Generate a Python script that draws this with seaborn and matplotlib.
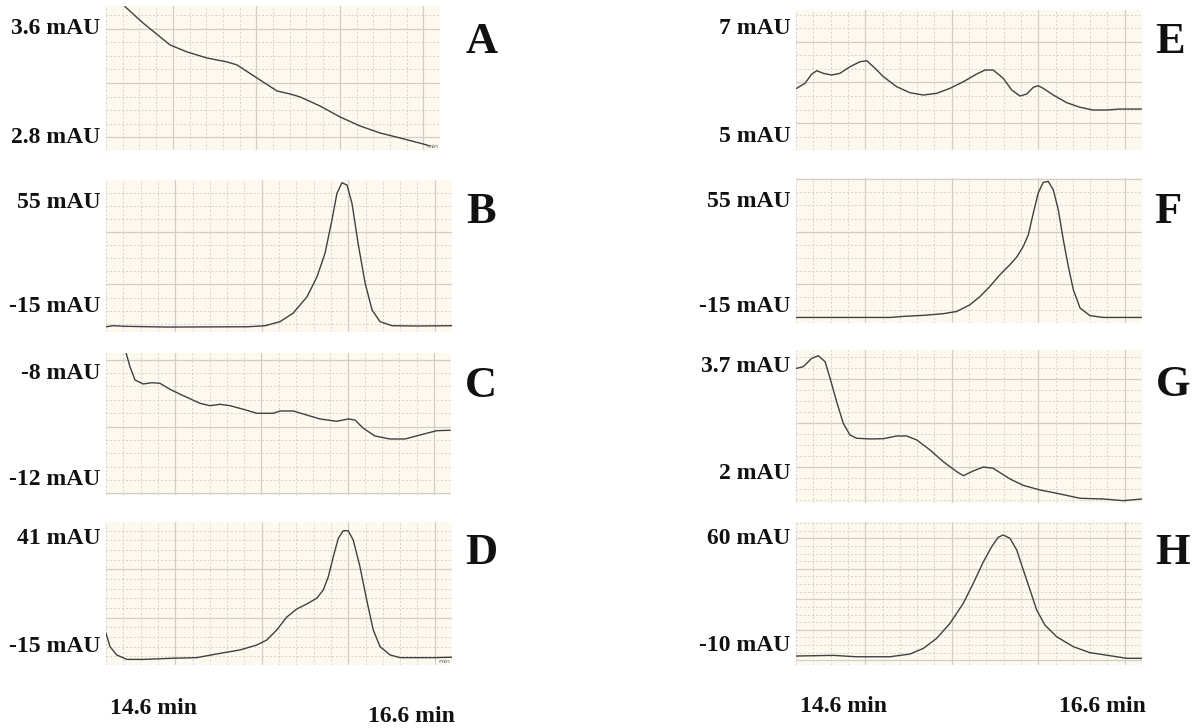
import matplotlib
matplotlib.use("Agg")
import matplotlib.pyplot as plt
from matplotlib.ticker import MultipleLocator
import pandas as pd
import seaborn as sns

# ---------------- data ----------------
a_time = [14.714, 14.822, 14.983, 15.085, 15.205, 15.325, 15.384, 15.504, 15.624, 15.702,
          15.762, 15.881, 16.001, 16.121, 16.241, 16.361, 16.498, 16.540]
a_mau = [3.765, 3.644, 3.482, 3.430, 3.385, 3.356, 3.334, 3.237, 3.141, 3.119,
         3.097, 3.030, 2.949, 2.882, 2.830, 2.793, 2.749, 2.734]

b_time = [14.600, 14.640, 14.710, 14.953, 15.421, 15.520, 15.606, 15.681, 15.762, 15.820,
          15.866, 15.906, 15.935, 15.964, 15.993, 16.022, 16.057, 16.098, 16.138, 16.184,
          16.253, 16.398, 16.600]
b_mau = [-28.2, -27.5, -27.9, -28.4, -28.2, -27.5, -24.8, -19.2, -8.2, 5.2,
         20.8, 43.0, 60.8, 67.9, 66.3, 54.1, 27.5, 0.8, -17.0, -24.8,
         -27.5, -27.7, -27.5]

c_time = [14.716, 14.739, 14.768, 14.816, 14.865, 14.913, 14.971, 15.039, 15.145, 15.203,
          15.261, 15.319, 15.396, 15.474, 15.570, 15.609, 15.686, 15.763, 15.841, 15.937,
          16.005, 16.043, 16.092, 16.159, 16.246, 16.333, 16.420, 16.517, 16.594]
c_mau = [-7.241, -7.764, -8.262, -8.411, -8.363, -8.385, -8.609, -8.822, -9.133, -9.222,
         -9.170, -9.222, -9.357, -9.506, -9.506, -9.420, -9.420, -9.570, -9.719, -9.805,
         -9.719, -9.757, -10.067, -10.355, -10.467, -10.467, -10.318, -10.157, -10.142]

d_time = [14.600, 14.623, 14.662, 14.720, 14.816, 14.989, 15.124, 15.240, 15.375, 15.471,
          15.529, 15.587, 15.644, 15.702, 15.760, 15.818, 15.856, 15.885, 15.914, 15.943,
          15.972, 16.000, 16.029, 16.068, 16.107, 16.145, 16.184, 16.242, 16.299, 16.492, 16.598]
d_mau = [-8.1, -15.0, -19.3, -21.6, -21.6, -21.0, -20.7, -18.8, -16.7, -14.2,
         -11.6, -6.4, 0.2, 4.4, 7.0, 10.0, 14.3, 21.1, 31.5, 41.0,
         44.9, 44.9, 40.1, 26.3, 9.1, -6.4, -15.0, -19.3, -20.7, -20.7, -20.5]

e_time = [14.604, 14.652, 14.691, 14.720, 14.758, 14.806, 14.854, 14.912, 14.970, 15.009,
          15.057, 15.105, 15.182, 15.259, 15.336, 15.413, 15.490, 15.567, 15.644, 15.692,
          15.740, 15.798, 15.847, 15.895, 15.933, 15.972, 16.000, 16.029, 16.087, 16.165,
          16.242, 16.318, 16.396, 16.473, 16.598]
e_mau = [5.892, 5.985, 6.156, 6.217, 6.169, 6.138, 6.169, 6.291, 6.383, 6.402,
         6.262, 6.107, 5.922, 5.811, 5.769, 5.800, 5.892, 6.014, 6.156, 6.230,
         6.230, 6.077, 5.861, 5.750, 5.787, 5.911, 5.940, 5.892, 5.769, 5.627,
         5.542, 5.492, 5.492, 5.510, 5.510]

f_time = [14.604, 14.854, 15.143, 15.220, 15.336, 15.451, 15.529, 15.606, 15.664, 15.721,
          15.779, 15.837, 15.876, 15.914, 15.943, 15.972, 16.000, 16.029, 16.058, 16.087,
          16.116, 16.145, 16.174, 16.203, 16.242, 16.299, 16.376, 16.511, 16.598]
f_mau = [-22.2, -22.2, -22.2, -21.5, -20.8, -19.7, -18.2, -13.7, -8.2, -1.5,
         6.3, 13.0, 18.1, 25.2, 33.0, 47.5, 60.8, 67.9, 68.5, 63.0,
         49.7, 29.7, 11.8, -3.7, -15.9, -21.0, -22.2, -22.2, -22.2]

g_time = [14.604, 14.642, 14.691, 14.729, 14.768, 14.797, 14.835, 14.873, 14.912, 14.951,
          15.028, 15.105, 15.182, 15.240, 15.298, 15.375, 15.451, 15.529, 15.567, 15.625,
          15.683, 15.740, 15.837, 15.914, 16.010, 16.107, 16.242, 16.376, 16.492, 16.598]
g_mau = [3.674, 3.700, 3.834, 3.875, 3.780, 3.515, 3.142, 2.798, 2.611, 2.559,
         2.548, 2.552, 2.595, 2.595, 2.532, 2.372, 2.186, 2.027, 1.963, 2.038,
         2.101, 2.080, 1.910, 1.808, 1.735, 1.682, 1.602, 1.591, 1.564, 1.591]

h_time = [14.604, 14.816, 14.951, 15.143, 15.259, 15.336, 15.413, 15.490, 15.567, 15.625,
          15.683, 15.731, 15.769, 15.798, 15.837, 15.876, 15.914, 15.953, 15.991, 16.039,
          16.107, 16.203, 16.299, 16.415, 16.511, 16.598]
h_mau = [-17.2, -16.8, -17.7, -17.7, -15.9, -12.2, -5.6, 4.2, 17.4, 30.5,
         44.6, 54.5, 60.7, 62.2, 60.0, 52.3, 39.2, 26.1, 13.0, 3.1,
         -4.6, -11.1, -15.0, -17.0, -18.7, -18.7]

panel_letters = ["A", "B", "C", "D", "E", "F", "G", "H"]
a_ticks, a_labels = [3.6, 2.8], ["3.6 mAU", "2.8 mAU"]
b_ticks, b_labels = [55, -15], ["55 mAU", "-15 mAU"]
c_ticks, c_labels = [-8, -12], ["-8 mAU", "-12 mAU"]
d_ticks, d_labels = [41, -15], ["41 mAU", "-15 mAU"]
e_ticks, e_labels = [7, 5], ["7 mAU", "5 mAU"]
f_ticks, f_labels = [55, -15], ["55 mAU", "-15 mAU"]
g_ticks, g_labels = [3.7, 2], ["3.7 mAU", "2 mAU"]
h_ticks, h_labels = [60, -10], ["60 mAU", "-10 mAU"]
time_start_label = "14.6 min"
time_end_label = "16.6 min"
time_range = (14.6, 16.6)

# ---------------- layout / style ----------------
W, H = 1202, 728
BG = "#fdf9ee"
LINE = "#404040"
SERIF = ["Liberation Serif", "DejaVu Serif"]

series = [(a_time, a_mau, a_ticks, a_labels), (b_time, b_mau, b_ticks, b_labels),
          (c_time, c_mau, c_ticks, c_labels), (d_time, d_mau, d_ticks, d_labels),
          (e_time, e_mau, e_ticks, e_labels), (f_time, f_mau, f_ticks, f_labels),
          (g_time, g_mau, g_ticks, g_labels), (h_time, h_mau, h_ticks, h_labels)]

# pixel boxes (left, top, right, bottom), y-limits, grid steps, letter position, unit mark
layout = [
    ((106, 6, 440, 150), (2.704, 3.770), 0.4, 0.1, (482, 42), True),
    ((106, 180, 452, 332), (-31.7, 69.7), 35, 8.75, (481, 212), False),
    ((106, 353, 451, 495), (-12.561, -7.252), 2.5, 0.5, (481, 386), False),
    ((106, 522, 452, 665), (-24.5, 49.4), 25, 5, (481, 553), True),
    ((796, 10, 1142, 150), (4.754, 7.338), 0.75, 0.25, (1170, 42), False),
    ((796, 178, 1142, 323), (-25.9, 70.8), 35, 8.75, (1168, 212), False),
    ((796, 350, 1142, 503), (1.527, 3.966), 0.7, 0.175, (1173, 385), False),
    ((796, 522, 1142, 665), (-23.1, 70.7), 20, 5, (1173, 553), False),
]

fig = plt.figure(figsize=(W / 100, H / 100), dpi=100)
fig.patch.set_facecolor("white")

for (t, v, ticks, labels), letter, (box, ylim, maj, mnr, lpos, unit) in zip(series, panel_letters, layout):
    l, tp, r, b = box
    ax = fig.add_axes([l / W, 1 - b / H, (r - l) / W, (b - tp) / H])
    ax.set_facecolor(BG)
    df = pd.DataFrame({"time": t, "mAU": v})
    sns.lineplot(data=df, x="time", y="mAU", ax=ax, color=LINE, linewidth=1.0,
                 estimator=None, sort=False, legend=False)
    ax.set_xlim(*time_range)
    ax.set_ylim(*ylim)
    ax.xaxis.set_major_locator(MultipleLocator(0.5))
    ax.xaxis.set_minor_locator(MultipleLocator(0.1))
    ax.yaxis.set_major_locator(MultipleLocator(maj))
    ax.yaxis.set_minor_locator(MultipleLocator(mnr))
    ax.grid(which="major", color="#d2cec6", linewidth=0.9, linestyle="-")
    ax.grid(which="minor", color="#d6d2ca", linewidth=0.7, linestyle=(0, (2, 2)))
    ax.set_axisbelow(True)
    ax.tick_params(which="both", length=0, labelbottom=False, labelleft=False)
    ax.set_xlabel("")
    ax.set_ylabel("")
    for s in ax.spines.values():
        s.set_visible(False)
    for val, lab in zip(ticks, labels):
        ax.text(-0.016, val, lab, transform=ax.get_yaxis_transform(), ha="right", va="center",
                fontsize=17, fontweight="bold", family=SERIF, color="#111111")
    if unit:
        ax.text(0.995, 0.01, "min", transform=ax.transAxes, ha="right", va="bottom",
                fontsize=4.5, color="#666666")
    fig.text(lpos[0] / W, 1 - lpos[1] / H, letter, ha="center", va="center",
             fontsize=32, fontweight="bold", family=SERIF, color="#111111")

# time labels
for x, y, txt, ha in [(110, 708, time_start_label, "left"), (455, 716, time_end_label, "right"),
                      (800, 707, time_start_label, "left"), (1146, 707, time_end_label, "right")]:
    fig.text(x / W, 1 - y / H, txt, ha=ha, va="center", fontsize=17, fontweight="bold",
             family=SERIF, color="#111111")

fig.savefig("out.png", dpi=100, facecolor="white")
